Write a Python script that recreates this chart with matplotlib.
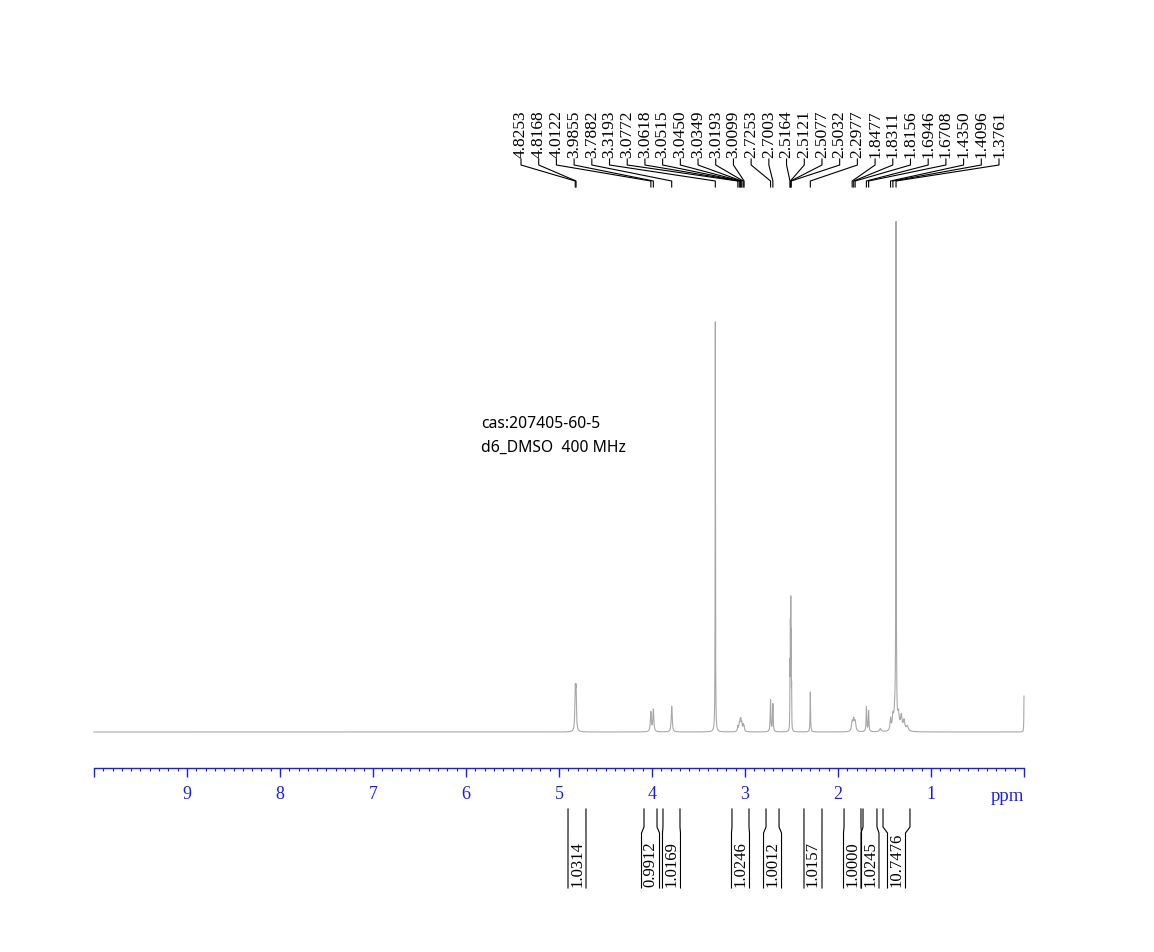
import numpy as np
import matplotlib
matplotlib.use("Agg")
import matplotlib.pyplot as plt
from matplotlib.lines import Line2D
from matplotlib.ticker import MultipleLocator
import matplotlib.transforms as mtransforms

# ---------------- data ----------------
# spectral lines: position (ppm), height (tallest = 100), half-width (ppm)
line_ppm = [4.8253, 4.8168, 4.0122, 3.9855, 3.7882, 3.3193,
            3.0772, 3.0618, 3.0515, 3.0450, 3.0349, 3.0193, 3.0099,
            2.7253, 2.7003, 2.5164, 2.5121, 2.5077, 2.5032, 2.4990,
            2.2977, 1.8477, 1.8311, 1.8156, 1.6946, 1.6708, 1.5450,
            1.4350, 1.4096, 1.3900, 1.3761, 1.3500, 1.3200, 1.2900, 1.2550,
            0.0000]
line_height = [7.4, 7.4, 3.8, 4.3, 5.0, 80.0,
               1.0, 1.4, 1.6, 1.7, 1.5, 1.2, 0.9,
               6.2, 5.4, 11.5, 18.0, 22.5, 16.5, 7.0,
               7.8, 1.8, 2.2, 1.8, 4.8, 4.0, 0.6,
               2.3, 2.6, 3.0, 98.0, 3.0, 2.8, 2.0, 1.0,
               7.0]
line_width = [0.005, 0.005, 0.006, 0.006, 0.006, 0.002,
              0.005, 0.005, 0.005, 0.005, 0.005, 0.005, 0.005,
              0.004, 0.004, 0.0015, 0.0015, 0.0015, 0.0015, 0.0015,
              0.003, 0.008, 0.008, 0.008, 0.004, 0.004, 0.010,
              0.006, 0.008, 0.010, 0.0025, 0.010, 0.010, 0.010, 0.012,
              0.002]

# peak-pick labels
peak_labels = [4.8253, 4.8168, 4.0122, 3.9855, 3.7882, 3.3193, 3.0772,
               3.0618, 3.0515, 3.0450, 3.0349, 3.0193, 3.0099, 2.7253,
               2.7003, 2.5164, 2.5121, 2.5077, 2.5032, 2.2977, 1.8477,
               1.8311, 1.8156, 1.6946, 1.6708, 1.4350, 1.4096, 1.3761]

# integrals: start ppm, end ppm, value
int_start = [4.903, 4.086, 3.882, 3.140, 2.774, 2.366, 1.935, 1.731, 1.516]
int_end = [4.710, 3.946, 3.699, 2.957, 2.634, 2.172, 1.753, 1.581, 1.226]
int_value = ["1.0314", "0.9912", "1.0169", "1.0246", "1.0012", "1.0157",
             "1.0000", "1.0245", "10.7476"]

x_ticks = list(range(0, 11))
x_ticklabels = ["" if t in (0, 10) else str(t) for t in x_ticks]

# ---------------- figure ----------------
W, H = 1154, 953
fig = plt.figure(figsize=(W / 100, H / 100), dpi=100)
fig.patch.set_facecolor("white")
BLUE = "#1a1aff"
SERIF = "Liberation Serif"

ax = fig.add_axes([94 / W, (H - 733) / H, 930 / W, 513 / H])
ax.set_xlim(10, 0)
ax.set_ylim(0, 100)
ax.patch.set_visible(False)

x = np.linspace(10, 0, 40001)
y = np.zeros_like(x)
for p, h, w in zip(line_ppm, line_height, line_width):
    y += h / (1.0 + ((x - p) / w) ** 2)
ax.plot(x, y, color="#a8a8a8", lw=0.8, clip_on=False)

for s in ("top", "left", "right"):
    ax.spines[s].set_visible(False)
ax.spines["bottom"].set_position(("outward", 36 * 0.72))
ax.spines["bottom"].set_color(BLUE)
ax.spines["bottom"].set_linewidth(1.0)
ax.set_yticks([])
ax.set_xticks(x_ticks, labels=x_ticklabels, fontfamily=SERIF)
ax.xaxis.set_minor_locator(MultipleLocator(0.1))
ax.tick_params(axis="x", which="major", direction="out", length=9 * 0.72,
               width=1.0, color=BLUE, labelcolor=BLUE, labelsize=13, pad=6.0)
ax.tick_params(axis="x", which="minor", direction="out", length=3 * 0.72,
               width=0.8, color=BLUE)
trans_xb = mtransforms.blended_transform_factory(ax.transData, fig.transFigure)
ax.text(0, (H - 801) / H, "ppm", transform=trans_xb, ha="right", va="baseline",
        color=BLUE, fontsize=13.5, fontfamily=SERIF)


def px(ppm):
    return ax.transData.transform([[ppm, 0]])[0][0]


def add_line(xs, ys):
    fig.add_artist(Line2D([xx / W for xx in xs], [(H - yy) / H for yy in ys],
                          transform=fig.transFigure, color="black", lw=0.8))


# peak labels
lab_x = np.linspace(521, 999, len(peak_labels))
for lx, p in zip(lab_x, peak_labels):
    fig.text(lx / W, (H - 158) / H, f"{p:.4f}", rotation=90,
             rotation_mode="anchor", ha="left", va="center",
             fontsize=12.5, fontfamily=SERIF, color="black")
    pxv = px(p)
    add_line([lx, lx, pxv, pxv], [160, 166, 182, 188])

# integrals
for s, e, v in zip(int_start, int_end, int_value):
    xl, xr = px(s), px(e)
    c = 0.5 * (xl + xr)
    add_line([xl, xl, c - 9, c - 9], [810, 828, 834, 889])
    add_line([xr, xr, c + 9, c + 9], [810, 828, 834, 889])
    fig.text(c / W, (H - 887) / H, v, rotation=90, rotation_mode="anchor",
             ha="left", va="center", fontsize=12, fontfamily=SERIF,
             color="black")

fig.text(481 / W, (H - 424) / H, "cas:207405-60-5", ha="left", va="center",
         fontsize=11.3, fontfamily="Noto Sans", color="black")
fig.text(481 / W, (H - 448) / H, "d6_DMSO  400 MHz", ha="left", va="center",
         fontsize=11.3, fontfamily="Noto Sans", color="black")

fig.savefig("out.png", dpi=100, facecolor="white")
